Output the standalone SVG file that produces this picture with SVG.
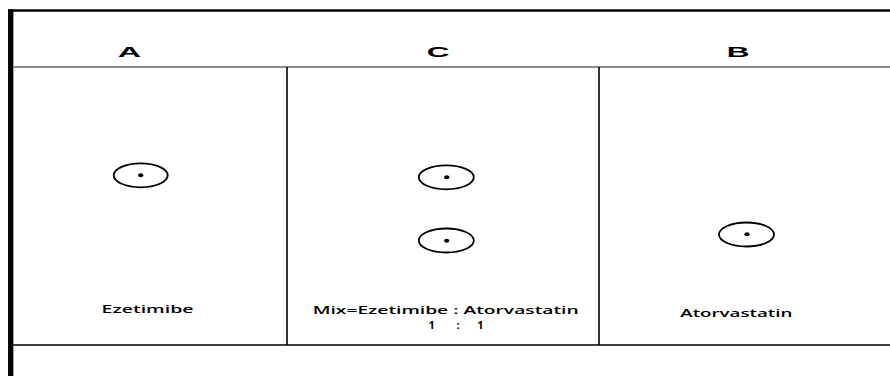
<svg xmlns="http://www.w3.org/2000/svg" width="890" height="376" viewBox="0 0 890 376">
<style>
.hdr{font-family:"Liberation Sans",Arial,sans-serif;font-weight:bold;font-size:15px;fill:#000;text-anchor:middle}
.lbl{font-family:"Open Sans","DejaVu Sans",sans-serif;font-weight:600;font-size:10px;fill:#000;text-anchor:middle}
.num{font-family:"Open Sans","DejaVu Sans",sans-serif;font-weight:700;font-size:11px;fill:#000;text-anchor:middle}
.ring{fill:none;stroke:#000;stroke-width:1.8}
.dot{fill:#000}
.grid{stroke:#000;fill:none}
</style>
<rect width="890" height="376" fill="#fff"/>
<g id="frame">
<line class="grid" x1="8" y1="10.5" x2="890" y2="10.5" stroke-width="2.5"/>
<line class="grid" x1="10.7" y1="9.5" x2="10.7" y2="376" stroke-width="5.3"/>
<line x1="13" y1="67" x2="890" y2="67" stroke="#666" stroke-width="1.3"/>
<line class="grid" x1="13" y1="345" x2="890" y2="345" stroke-width="1.3"/>
<line class="grid" x1="287" y1="67" x2="287" y2="345" stroke-width="1.6"/>
<line class="grid" x1="599" y1="67" x2="599" y2="345" stroke-width="1.6"/>
</g>
<g id="headerA"><text class="hdr" transform="translate(129.5,57.3) scale(2.15,1)">A</text></g>
<g id="headerC"><text class="hdr" transform="translate(438,57.3) scale(2.1,1)">C</text></g>
<g id="headerB"><text class="hdr" transform="translate(738,57.3) scale(2.1,1)">B</text></g>
<g id="spotA">
<ellipse class="ring" cx="140.7" cy="175.3" rx="27" ry="12"/>
<ellipse class="dot" cx="140.7" cy="175.3" rx="2.6" ry="2"/>
</g>
<g id="spotC1">
<ellipse class="ring" cx="446.3" cy="177.3" rx="27.5" ry="12"/>
<ellipse class="dot" cx="446.7" cy="177.3" rx="2.6" ry="2"/>
</g>
<g id="spotC2">
<ellipse class="ring" cx="446.3" cy="240.5" rx="27.5" ry="12"/>
<ellipse class="dot" cx="446.7" cy="240.7" rx="2.6" ry="2"/>
</g>
<g id="spotB">
<ellipse class="ring" cx="746.5" cy="234.5" rx="27.5" ry="12"/>
<ellipse class="dot" cx="747" cy="234.3" rx="2.6" ry="2"/>
</g>
<g id="labelA"><text class="lbl" x="147.5" y="313.3" textLength="92" lengthAdjust="spacingAndGlyphs">Ezetimibe</text></g>
<g id="labelC">
<text class="lbl" x="445.7" y="314.3" textLength="266" lengthAdjust="spacingAndGlyphs">Mix=Ezetimibe : Atorvastatin</text>
<text class="num" x="431.7" y="329.3">1</text>
<text class="num" x="458" y="329.3">:</text>
<text class="num" x="480.5" y="329.3">1</text>
</g>
<g id="labelB"><text class="lbl" x="736.3" y="316.7" textLength="112" lengthAdjust="spacingAndGlyphs">Atorvastatin</text></g>
</svg>
